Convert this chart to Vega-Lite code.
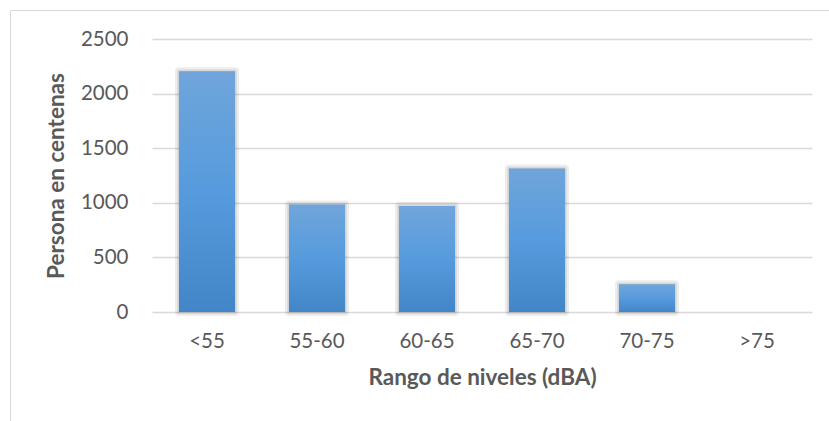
{
  "$schema": "https://vega.github.io/schema/vega-lite/v6.json",
  "autosize": {"type": "none"},
  "padding": {"left": 10, "top": 10, "right": 0, "bottom": 0},
  "width": 819,
  "height": 411,
  "background": "#ffffff",
  "config": {
    "view": {"stroke": "#d9d9d9", "strokeWidth": 1},
    "font": "Lato",
    "axis": {
      "labelFont": "Lato",
      "labelFontSize": 20.5,
      "labelColor": "#595959",
      "titleFont": "Lato",
      "titleFontSize": 22.5,
      "titleFontWeight": "bold",
      "titleColor": "#595959",
      "ticks": false,
      "tickSize": 0,
      "domain": false
    }
  },
  "data": {
    "values": [
      {"rango": "<55", "personas": 2205},
      {"rango": "55-60", "personas": 985},
      {"rango": "60-65", "personas": 970},
      {"rango": "65-70", "personas": 1315},
      {"rango": "70-75", "personas": 255},
      {"rango": ">75", "personas": 0}
    ]
  },
  "encoding": {
    "x": {
      "field": "rango",
      "type": "nominal",
      "sort": null,
      "title": "Rango de niveles (dBA)",
      "scale": {"range": [142, 802], "paddingInner": 0.49, "paddingOuter": 0.245},
      "axis": {"labelAngle": 0, "offset": -109, "labelPadding": 19, "titlePadding": 15, "grid": false}
    },
    "y": {
      "field": "personas",
      "type": "quantitative",
      "title": "Persona en centenas",
      "scale": {"domain": [0, 2500], "range": [302, 29], "nice": false, "zero": true},
      "axis": {
        "values": [0, 500, 1000, 1500, 2000, 2500],
        "format": "d",
        "offset": -142,
        "labelPadding": 24,
        "titlePadding": 12,
        "grid": true,
        "gridColor": "#d9d9d9",
        "gridWidth": 1.5
      }
    }
  },
  "layer": [
    {
      "transform": [{"filter": "datum.personas > 0"}],
      "mark": {"type": "bar", "fill": "#000000", "fillOpacity": 0.06, "stroke": "#000000", "strokeOpacity": 0.07, "strokeWidth": 8, "strokeJoin": "round"}
    },
    {
      "transform": [{"filter": "datum.personas > 0"}],
      "mark": {"type": "bar", "fill": "#000000", "fillOpacity": 0.06, "stroke": "#000000", "strokeOpacity": 0.09, "strokeWidth": 3.5, "strokeJoin": "round"}
    },
    {
      "mark": {
        "type": "bar",
        "fill": {
          "gradient": "linear",
          "x1": 0, "y1": 0, "x2": 0, "y2": 1,
          "stops": [
            {"offset": 0, "color": "#70a5db"},
            {"offset": 0.5, "color": "#569bdd"},
            {"offset": 1, "color": "#4386c8"}
          ]
        }
      }
    }
  ]
}
